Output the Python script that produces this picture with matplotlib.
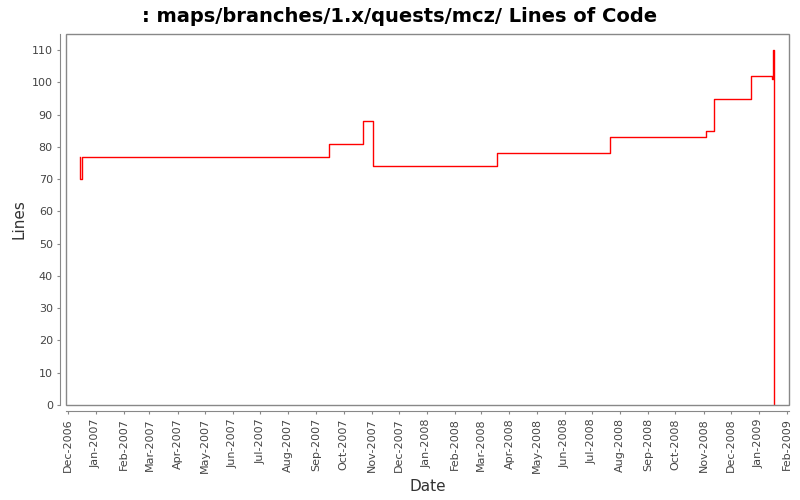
import matplotlib
matplotlib.use("Agg")
import matplotlib.pyplot as plt
import matplotlib.dates as mdates
from matplotlib.patches import Rectangle
import numpy as np
from datetime import datetime

# commit dates and line counts
dates = ["2006-12-14 00:00", "2006-12-14 12:00", "2006-12-17 00:00",
         "2007-09-15 00:00", "2007-10-23 00:00", "2007-11-03 00:00",
         "2008-03-18 00:00", "2008-07-21 00:00", "2008-11-04 00:00",
         "2008-11-13 00:00", "2008-12-23 00:00", "2009-01-15 00:00",
         "2009-01-17 00:00", "2009-01-17 18:00", "2009-01-18 00:00"]
lines = [77, 70, 77, 81, 88, 74, 78, 83, 85, 95, 102, 101, 110, 0, 0]

tick_months = ["2006-12", "2007-01", "2007-02", "2007-03", "2007-04", "2007-05",
               "2007-06", "2007-07", "2007-08", "2007-09", "2007-10", "2007-11",
               "2007-12", "2008-01", "2008-02", "2008-03", "2008-04", "2008-05",
               "2008-06", "2008-07", "2008-08", "2008-09", "2008-10", "2008-11",
               "2008-12", "2009-01", "2009-02"]

x = [datetime.strptime(d, "%Y-%m-%d %H:%M") for d in dates]
ticks = [datetime.strptime(m, "%Y-%m") for m in tick_months]

fig = plt.figure(figsize=(8, 5), dpi=100)
ax = fig.add_axes([0.0825, 0.19, 0.9035, 0.742])

ax.step(x, lines, where="post", color="#ff0000", linewidth=1)

# plot frame, with the axis lines pushed a few pixels outside it
ax.add_patch(Rectangle((0, 0), 1, 1, transform=ax.transAxes, fill=False,
                       edgecolor="#888888", linewidth=1, clip_on=False, zorder=3))
ax.spines["top"].set_visible(False)
ax.spines["right"].set_visible(False)
ax.spines["left"].set_position(("outward", 4))
ax.spines["bottom"].set_position(("outward", 4))
ax.spines["left"].set_color("#888888")
ax.spines["bottom"].set_color("#888888")

ax.set_xlim(datetime(2006, 11, 29), datetime(2009, 2, 3))
ax.set_ylim(0, 115)
ax.set_yticks(np.arange(0, 111, 10))
ax.set_xticks(ticks)
ax.xaxis.set_major_formatter(mdates.DateFormatter("%b-%Y"))

ax.tick_params(colors="#444444", labelsize=8, direction="out", length=2)
ax.tick_params(axis="both", color="#888888")
ax.tick_params(axis="x", labelrotation=90)

ax.set_xlabel("Date", fontsize=11, color="#333333")
ax.set_ylabel("Lines", fontsize=11, color="#333333")
fig.suptitle(": maps/branches/1.x/quests/mcz/ Lines of Code",
             fontsize=14, fontweight="bold", y=0.985)

fig.savefig("out.png", dpi=100)
